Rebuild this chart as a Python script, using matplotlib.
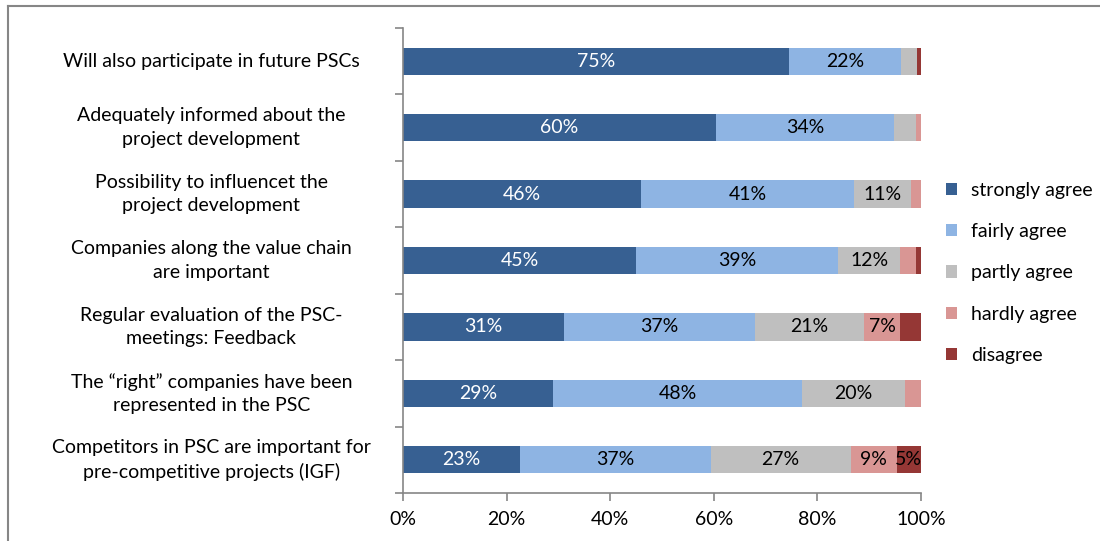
import matplotlib
matplotlib.use('Agg')
import matplotlib.pyplot as plt
from matplotlib.patches import Patch
from matplotlib.lines import Line2D

plt.rcParams['font.family'] = ['Lato', 'DejaVu Sans']

# survey statements, top to bottom
statements = [
    'Will also participate in future PSCs',
    'Adequately informed about the\nproject development',
    'Possibility to influencet the\nproject development',
    'Companies along the value chain\nare important',
    'Regular evaluation of the PSC-\nmeetings: Feedback',
    'The \u201cright\u201d companies have been\nrepresented in the PSC',
    'Competitors in PSC are important for\npre-competitive projects (IGF)',
]
answers = ['strongly agree', 'fairly agree', 'partly agree', 'hardly agree', 'disagree']

# share of answers in percent, one list per answer
strongly_agree = [74.6, 60.4, 46.0, 45.0, 31.0, 29.0, 22.6]
fairly_agree = [21.6, 34.4, 41.0, 39.0, 37.0, 48.0, 36.8]
partly_agree = [3.0, 4.2, 11.0, 12.0, 21.0, 20.0, 27.0]
hardly_agree = [0.0, 1.0, 2.0, 3.0, 7.0, 3.0, 8.9]
disagree = [0.8, 0.0, 0.0, 1.0, 4.0, 0.0, 4.7]

series = [strongly_agree, fairly_agree, partly_agree, hardly_agree, disagree]
colors = ['#376092', '#8EB4E3', '#BFBFBF', '#D99694', '#953735']
text_colors = ['white', 'black', 'black', 'black', 'black']

FS = 14
GRID = '#868686'

fig = plt.figure(figsize=(11, 5.41), dpi=100)
ax = fig.add_axes([403 / 1100, 48 / 541, 518 / 1100, 465 / 541])

ypos = list(range(len(statements)))
left = [0.0] * len(statements)
for vals, col, tcol, name in zip(series, colors, text_colors, answers):
    ax.barh(ypos, vals, left=left, height=0.41, color=col, label=name)
    for y, v, l in zip(ypos, vals, left):
        if v >= 4.5:
            ax.text(l + v / 2, y, f'{v:.0f}%', ha='center', va='center',
                    color=tcol, fontsize=FS)
    left = [l + v for l, v in zip(left, vals)]

ax.set_xlim(0, 100)
ax.set_ylim(len(statements) - 0.5, -0.5)
ax.set_xticks([0, 20, 40, 60, 80, 100])
ax.set_xticklabels([f'{t}%' for t in range(0, 101, 20)], fontsize=FS)
ax.set_yticks(ypos)
ax.set_yticklabels([])
ax.tick_params(axis='y', length=0)
ax.set_yticks([y - 0.5 for y in range(len(statements) + 1)], minor=True)
ax.tick_params(axis='y', which='minor', length=6, color=GRID, width=1.2)
ax.tick_params(axis='x', length=6, color=GRID, width=1.2, pad=7)
for s in ['top', 'right']:
    ax.spines[s].set_visible(False)
for s in ['left', 'bottom']:
    ax.spines[s].set_color(GRID)
    ax.spines[s].set_linewidth(1.2)

# category labels, centred in the left margin
for y, txt in zip(ypos, statements):
    ax.text(-0.37, y, txt, transform=ax.get_yaxis_transform(),
            ha='center', va='center', fontsize=FS, linespacing=1.45)

handles = [Patch(facecolor=c, edgecolor='none') for c in colors]
fig.legend(handles, answers, loc='upper left', bbox_to_anchor=(936 / 1100, 1 - 172 / 541),
           frameon=False, fontsize=FS, handlelength=0.6, handleheight=0.6,
           handletextpad=0.7, labelspacing=1.25, borderpad=0)

# chart area border
fig.add_artist(Line2D([8 / 1100, 8 / 1100], [0, 1 - 6 / 541], color=GRID, lw=1.5))
fig.add_artist(Line2D([8 / 1100, 1], [1 - 6 / 541, 1 - 6 / 541], color=GRID, lw=1.5))

fig.savefig('out.png', dpi=100)
